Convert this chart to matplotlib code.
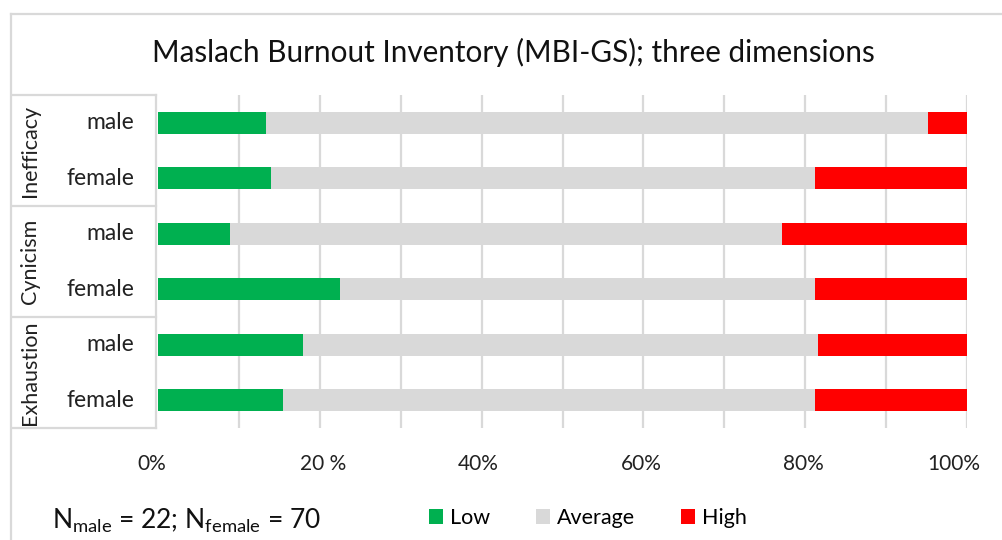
import matplotlib
matplotlib.use("Agg")
import matplotlib.pyplot as plt
from matplotlib.lines import Line2D
from matplotlib.patches import Patch
from matplotlib.transforms import blended_transform_factory, ScaledTranslation
import numpy as np

plt.rcParams['font.family'] = ['Lato', 'DejaVu Sans']
plt.rcParams['mathtext.default'] = 'regular'

# ---- data (percent) ----
groups = ["Exhaustion", "Cynicism", "Inefficacy"]
sub_labels = ["female", "male", "female", "male", "female", "male"]  # bottom to top
low = [15.4, 17.9, 22.5, 8.9, 14.0, 13.3]
average = [65.8, 63.7, 58.7, 68.2, 67.2, 81.9]
high = [18.8, 18.4, 18.8, 22.9, 18.8, 4.8]
series_names = ["Low", "Average", "High"]
colors = ["#00B050", "#D9D9D9", "#FF0000"]
xtick_vals = [0, 20, 40, 60, 80, 100]
xtick_labels = ["0%", "20 %", "40%", "60%", "80%", "100%"]
title = "Maslach Burnout Inventory (MBI-GS); three dimensions"
note = r"N$_{male}$ = 22; N$_{female}$ = 70"

W, H = 1003, 540
fig = plt.figure(figsize=(W / 100, H / 100), dpi=100)

def fx(px):
    return px / W

def fy(py):
    return 1 - py / H

ax = fig.add_axes([fx(158), fy(428), fx(967) - fx(158), fy(95) - fy(428)])
y = np.arange(len(sub_labels))
left = np.zeros(len(y))
handles = []
for vals, c, name in zip([low, average, high], colors, series_names):
    ax.barh(y, vals, left=left, height=0.4, color=c, zorder=3, label=name)
    left = left + np.array(vals)
    handles.append(Patch(facecolor=c, edgecolor='none', label=name))

ax.set_xlim(0, 100)
ax.set_ylim(-0.5, len(y) - 0.5)
for xv in range(10, 101, 10):
    ax.axvline(xv, color="#D9D9D9", lw=1.6, zorder=1)
for s in ax.spines.values():
    s.set_visible(False)
ax.set_yticks([])
ax.set_xticks(xtick_vals)
ax.set_xticklabels(xtick_labels, fontsize=15, color="#222222")
ax.tick_params(axis='x', length=0, pad=19)
# Excel squeezes the end labels slightly inward
shifts_px = [-6, 3, -3, -2, -2, -13]
for lab, s in zip(ax.get_xticklabels(), shifts_px):
    lab.set_transform(lab.get_transform() + ScaledTranslation(s / 100, 0, fig.dpi_scale_trans))

# category table lines
bt = blended_transform_factory(fig.transFigure, ax.transData)
lc = "#D9D9D9"
for yb in [-0.5, 1.5, 3.5, 5.5]:
    fig.add_artist(Line2D([fx(12), fx(156)], [yb, yb], transform=bt, color=lc, lw=1.6))
fig.add_artist(Line2D([fx(156), fx(156)], [-0.5, 5.5], transform=bt, color=lc, lw=1.6))

# chart border (top and left)
fig.add_artist(Line2D([fx(11.5), fx(11.5)], [fy(14), 0], transform=fig.transFigure, color=lc, lw=1.6))
fig.add_artist(Line2D([fx(11.5), 1], [fy(14), fy(14)], transform=fig.transFigure, color=lc, lw=1.6))

# sub-category labels
for yi, lab in zip(y, sub_labels):
    ax.text(fx(134), yi, lab, transform=bt, ha='right', va='center', fontsize=16.5, color="#222222")

# group labels
for gi, g in enumerate(groups):
    yc = 2 * gi + 0.5
    ax.text(fx(30), yc, g, transform=bt, ha='center', va='center', rotation=90,
            fontsize=15.5, color="#222222")

fig.text(fx(513), fy(52), title, ha='center', va='center', fontsize=21.3, color="#111111")
fig.text(fx(52), fy(521), note, ha='left', va='center', fontsize=19, color="#111111")

fig.legend(handles=handles, loc='center', bbox_to_anchor=(fx(588), fy(518)), ncol=3,
           frameon=False, fontsize=15.5, handlelength=0.65, handleheight=0.65,
           handletextpad=0.35, columnspacing=2.1)

fig.savefig("out.png", dpi=100)
